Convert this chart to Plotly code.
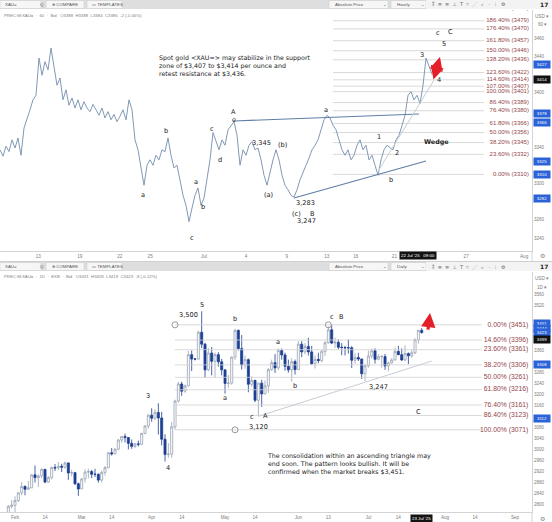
import plotly.graph_objects as go
import pandas as pd

W, H = 552, 522

# ---------------- TOP: hourly spot gold, x in trading days relative to 1 Jul 2025 ----------------
top_price = [3337, 3330, 3341, 3335, 3348, 3339, 3350, 3331, 3361, 3370,
             3381, 3392, 3397, 3438, 3419, 3434, 3425, 3449, 3430, 3408,
             3416, 3392, 3403, 3386, 3394, 3383, 3392, 3381, 3390, 3383,
             3379, 3387, 3381, 3375, 3383, 3372, 3379, 3370, 3376, 3368,
             3374, 3381, 3370, 3392, 3381, 3348, 3337, 3315, 3298, 3320,
             3326, 3320, 3331, 3326, 3337, 3335, 3350, 3331, 3317, 3320,
             3304, 3287, 3276, 3258, 3273, 3287, 3295, 3276, 3284, 3304,
             3326, 3356, 3346, 3337, 3348, 3342, 3359, 3364, 3368, 3353,
             3320, 3337, 3331, 3342, 3346, 3337, 3339, 3326, 3309, 3298,
             3313, 3326, 3337, 3326, 3309, 3298, 3293, 3287, 3285, 3293,
             3304, 3313, 3320, 3328, 3337, 3342, 3348, 3359, 3370, 3375,
             3372, 3364, 3359, 3348, 3337, 3331, 3337, 3326, 3331, 3342,
             3348, 3337, 3342, 3326, 3331, 3320, 3309, 3326, 3337, 3342,
             3339, 3337, 3348, 3353, 3364, 3375, 3397, 3401, 3392, 3397,
             3388, 3408, 3438, 3430, 3420]
top_t0 = -14.78      # first sample, trading days from 1 Jul
top_dt = 0.2174      # sampling step in trading days
top_t = [top_t0 + i * top_dt for i in range(len(top_price))]

top_fib_pct = [0, 23.6, 38.2, 50, 61.8, 76.4, 86.4, 100, 107, 114.6, 123.6, 138.2, 150, 161.8, 176.4, 186.4, 200]
top_fib_val = [3310, 3332, 3345, 3356, 3366, 3380, 3389, 3401, 3407, 3414, 3422, 3436, 3446, 3457, 3470, 3479, 3492]

top_tick_days = [-12.0, -9.0, -6.1, -3.9, 0, 3.04, 6.0, 8.9, 11.0, 13.8, 19.0, 23.2]
top_tick_text = ["13", "19", "22", "25", "Jul", "4", "9", "13", "16", "21", "27", "Aug"]
top_price_ticks = [3240, 3260, 3300, 3340, 3400, 3440, 3460]

# ---------------- BOTTOM: daily candles ----------------
dates = pd.bdate_range("2025-01-27", "2025-07-23")
o = [2770, 2740, 2763, 2760, 2794,
     2798, 2815, 2843, 2866, 2856, 2861, 2908, 2898, 2904, 2928, 2882, 2898, 2935, 2933, 2939, 2936, 2951, 2915, 2916, 2876,
     2857, 2893, 2918, 2920, 2910, 2910, 2889, 2917, 2934, 2988, 2984, 3001, 3034, 3047, 3043, 3022, 3011, 3020, 3019, 3058, 3085,
     3124, 3113, 3134, 3114, 3037, 2982, 2983, 3082, 3175, 3237, 3211, 3230, 3343, 3327, 3327, 3424, 3381, 3288, 3349, 3319, 3343, 3317,
     3288, 3239, 3240, 3334, 3431, 3365, 3306, 3325, 3236, 3250, 3178, 3240, 3201, 3230, 3289, 3314, 3295, 3358, 3342, 3301, 3288, 3318,
     3289, 3381, 3353, 3373, 3353, 3310, 3326, 3322, 3355, 3386, 3433, 3385, 3388, 3370, 3369, 3368, 3368, 3323, 3333, 3327, 3274,
     3303, 3338, 3357, 3326, 3336, 3336, 3302, 3313, 3324, 3355, 3343, 3324, 3347, 3339, 3350, 3397, 3431]
h = [2772, 2764, 2770, 2799, 2817,
     2830, 2845, 2882, 2870, 2886, 2911, 2942, 2910, 2932, 2929, 2904, 2938, 2947, 2954, 2948, 2956, 2953, 2927, 2919, 2880,
     2897, 2928, 2930, 2926, 2930, 2913, 2924, 2940, 2990, 3005, 3004, 3038, 3048, 3057, 3044, 3036, 3024, 3032, 3060, 3087, 3128,
     3149, 3145, 3167, 3136, 3055, 3023, 3100, 3180, 3245, 3245, 3235, 3357, 3358, 3331, 3430, 3500, 3386, 3367, 3371, 3351, 3352, 3328,
     3289, 3269, 3337, 3437, 3434, 3414, 3340, 3329, 3265, 3252, 3240, 3252, 3250, 3295, 3325, 3345, 3366, 3365, 3350, 3325, 3330, 3325,
     3392, 3392, 3385, 3404, 3375, 3340, 3350, 3360, 3392, 3446, 3452, 3405, 3398, 3385, 3375, 3398, 3374, 3348, 3350, 3329, 3309,
     3358, 3365, 3366, 3345, 3342, 3346, 3318, 3330, 3369, 3375, 3366, 3377, 3351, 3361, 3402, 3433, 3439]
l = [2730, 2736, 2747, 2753, 2786,
     2771, 2810, 2834, 2834, 2853, 2860, 2880, 2864, 2897, 2878, 2879, 2892, 2922, 2925, 2918, 2930, 2890, 2903, 2871, 2832,
     2857, 2880, 2895, 2896, 2900, 2880, 2880, 2905, 2932, 2978, 2982, 2998, 3024, 3025, 3000, 3002, 3005, 3011, 3015, 3055, 3075,
     3100, 3106, 3054, 3015, 2956, 2970, 2970, 3072, 3170, 3194, 3205, 3228, 3284, 3322, 3325, 3367, 3260, 3283, 3268, 3261, 3300, 3268,
     3202, 3223, 3234, 3324, 3358, 3289, 3292, 3207, 3227, 3171, 3120, 3154, 3200, 3205, 3284, 3277, 3287, 3325, 3285, 3278, 3245, 3271,
     3289, 3334, 3344, 3340, 3306, 3293, 3312, 3315, 3339, 3383, 3381, 3367, 3362, 3341, 3340, 3347, 3295, 3310, 3320, 3255, 3247,
     3296, 3329, 3311, 3323, 3296, 3288, 3283, 3310, 3322, 3341, 3320, 3319, 3309, 3332, 3345, 3383, 3419]
c = [2740, 2763, 2760, 2794, 2798,
     2815, 2843, 2866, 2856, 2861, 2908, 2898, 2904, 2928, 2882, 2898, 2935, 2933, 2939, 2936, 2951, 2915, 2916, 2876, 2857,
     2893, 2918, 2920, 2910, 2910, 2889, 2917, 2934, 2988, 2984, 3001, 3034, 3047, 3043, 3022, 3011, 3020, 3019, 3058, 3085, 3124,
     3113, 3134, 3114, 3037, 2982, 2983, 3082, 3175, 3237, 3211, 3230, 3343, 3327, 3327, 3424, 3381, 3288, 3349, 3319, 3343, 3317, 3288,
     3239, 3240, 3334, 3431, 3365, 3306, 3325, 3236, 3250, 3178, 3240, 3201, 3230, 3289, 3314, 3295, 3358, 3342, 3301, 3288, 3318, 3289,
     3381, 3353, 3373, 3353, 3310, 3326, 3322, 3355, 3386, 3433, 3385, 3388, 3370, 3369, 3368, 3368, 3323, 3333, 3327, 3274, 3303,
     3338, 3357, 3326, 3336, 3336, 3302, 3313, 3324, 3355, 3343, 3324, 3347, 3339, 3350, 3397, 3431, 3423]

bot_fib_pct = [0, 14.6, 23.6, 38.2, 50, 61.8, 76.4, 86.4, 100]
bot_fib_val = [3451, 3396, 3361, 3306, 3261, 3216, 3161, 3123, 3071]

bot_tick_dates = ["2025-02-03", "2025-02-14", "2025-03-03", "2025-03-14", "2025-04-01", "2025-04-14",
                  "2025-05-01", "2025-05-14", "2025-06-02", "2025-06-13", "2025-07-01", "2025-07-14",
                  "2025-08-01", "2025-08-14", "2025-09-01"]
bot_tick_text = ["Feb", "14", "Mar", "14", "Apr", "14", "May", "14", "Jun", "13", "Jul", "14", "Aug", "14", "Sep"]
bot_price_ticks = [2800, 2840, 2880, 2920, 2960, 3000, 3040, 3080, 3160, 3200, 3240, 3280, 3360, 3520, 3560]


def PX(x):
    return x / W


def PY(y):
    return 1 - y / H


LBL = dict(family="DejaVu Sans", size=6.6, color="#1b1b1b")
AX_FONT = dict(family="Liberation Sans", size=4.6, color="#7d7d7d")
FIB_COLOR = "#94464c"
FIB_LINE = "#cfcfcf"

fig = go.Figure()

# ---------- top traces ----------
fl_x, fl_y = [], []
for v in top_fib_val:
    fl_x += [9.35, 20.3, None]
    fl_y += [v, v, None]
fig.add_trace(go.Scatter(x=fl_x, y=fl_y, mode="lines", line=dict(color=FIB_LINE, width=0.8),
                         xaxis="x", yaxis="y", hoverinfo="skip"))
fig.add_trace(go.Scatter(x=top_t, y=top_price, mode="lines", line=dict(color="#8299b5", width=1),
                         xaxis="x", yaxis="y"))
# trend lines
fig.add_trace(go.Scatter(x=[2.17, 15.58], y=[3368.7, 3376.4], mode="lines",
                         line=dict(color="#5f7fa6", width=1.2), xaxis="x", yaxis="y"))
fig.add_trace(go.Scatter(x=[6.52, 16.09], y=[3284, 3324.7], mode="lines",
                         line=dict(color="#5f7fa6", width=1.2), xaxis="x", yaxis="y"))
fig.add_trace(go.Scatter(x=[12.54, 16.67], y=[3311.5, 3413.8], mode="lines",
                         line=dict(color="#c3cedb", width=1), xaxis="x", yaxis="y"))
fig.add_trace(go.Scatter(x=[23.55] * len(top_fib_val), y=top_fib_val, mode="text",
                         text=[f"{p:.2f}% ({v})" for p, v in zip(top_fib_pct, top_fib_val)],
                         textposition="middle left",
                         textfont=dict(family="Liberation Sans", size=6, color=FIB_COLOR),
                         xaxis="x", yaxis="y", cliponaxis=True))

# ---------- bottom traces ----------
bf_x, bf_y = [], []
for v in bot_fib_val:
    bf_x += ["2025-04-10", "2025-08-18", None]
    bf_y += [v, v, None]
fig.add_trace(go.Scatter(x=bf_x, y=bf_y, mode="lines", line=dict(color=FIB_LINE, width=0.8),
                         xaxis="x2", yaxis="y2", hoverinfo="skip"))
fig.add_trace(go.Scatter(x=["2025-05-15", "2025-07-28"], y=[3120, 3320], mode="lines",
                         line=dict(color="#c8ccd4", width=1), xaxis="x2", yaxis="y2"))
fig.add_trace(go.Candlestick(x=dates, open=o, high=h, low=l, close=c, xaxis="x2", yaxis="y2",
                             increasing=dict(line=dict(color="#98a2b3", width=0.8), fillcolor="#ffffff"),
                             decreasing=dict(line=dict(color="#1d3f93", width=0.8), fillcolor="#1d3f93"),
                             whiskerwidth=0))
fig.add_trace(go.Scatter(x=["2025-04-10", "2025-05-06", "2025-06-13"], y=[3451, 3071, 3451], mode="markers",
                         marker=dict(symbol="circle-open", size=6, color="#9a9a9a", line=dict(width=1)),
                         xaxis="x2", yaxis="y2"))
fig.add_trace(go.Scatter(x=["2025-09-05"] * len(bot_fib_val), y=bot_fib_val, mode="text",
                         text=[f"{p:.2f}% ({v})" for p, v in zip(bot_fib_pct, bot_fib_val)],
                         textposition="middle left",
                         textfont=dict(family="Liberation Sans", size=6.8, color=FIB_COLOR),
                         xaxis="x2", yaxis="y2", cliponaxis=True))

ann = []


def lab(x, y, t, xr="x", yr="y", font=LBL, **kw):
    d = dict(x=x, y=y, text=t, xref=xr, yref=yr, showarrow=False, font=font, xanchor="center", yanchor="middle")
    d.update(kw)
    ann.append(d)


# top labels
for x, y, t in [(2.17, 3378.6, "A"), (2.17, 3369.8, "e"), (-4.42, 3287.3, "a"), (-2.75, 3357.7, "b"),
                (-0.87, 3240, "c"), (-0.58, 3301.6, "a"), (-0.07, 3274, "b"), (0.58, 3359.9, "c"),
                (1.16, 3325.8, "d"), (4.2, 3344.5, "3,345"), (5.72, 3342.3, "(b)"), (4.64, 3287.3, "(a)"),
                (7.39, 3278.5, "3,283"), (6.74, 3266.4, "(c)"), (7.9, 3266.4, "B"), (7.46, 3258.7, "3,247"),
                (8.84, 3380.8, "a"), (12.68, 3351, "1"), (13.99, 3333.5, "2"), (13.55, 3303.8, "b"),
                (15.8, 3441.3, "3"), (17.03, 3413.8, "4"), (17.39, 3453.4, "5"), (16.96, 3465.5, "c"),
                (17.9, 3466.6, "C")]:
    lab(x, y, t)
lab(16.88, 3345.6, "<b>Wedge</b>", font=dict(family="DejaVu Sans", size=6.4, color="#1b1b1b"))
lab(-3.41, 3430.3, "Spot gold &lt;XAU=&gt; may stabilize in the support<br>zone of $3,407 to $3,414 per ounce and<br>retest resistance at $3,436.",
    xanchor="left", align="left", font=dict(family="DejaVu Sans", size=6.3, color="#1b1b1b"))
ann.append(dict(x=17.1, y=3439, ax=16.6, ay=3412.7, xref="x", yref="y", axref="x", ayref="y",
                showarrow=True, arrowhead=2, arrowside="end+start", arrowsize=0.9, arrowwidth=3,
                arrowcolor="#e3202a", text=""))

# bottom labels
for x, y, t in [("2025-04-22", 3522.7, "5"), ("2025-04-16", 3486.5, "3,500"), ("2025-05-06", 3472, "b"),
                ("2025-06-16", 3479, "c"), ("2025-06-19", 3479, "B"), ("2025-05-23", 3389, "a"),
                ("2025-05-01", 3186, "a"), ("2025-05-13", 3117, "c"), ("2025-05-19", 3120, "A"),
                ("2025-05-15", 3081, "3,120"), ("2025-05-30", 3230, "b"), ("2025-07-04", 3226, "3,247"),
                ("2025-07-22", 3135, "C"), ("2025-03-31", 3193, "3"), ("2025-04-08", 2933, "4")]:
    lab(x, y, t, xr="x2", yr="y2")
lab("2025-05-19", 2950, "The consolidation within an ascending triangle may<br>end soon. The pattern looks bullish. It will be<br>confirmed when the market breaks $3,451.",
    xr="x2", yr="y2", xanchor="left", align="left", font=dict(family="DejaVu Sans", size=6.3, color="#1b1b1b"))
ann.append(dict(x="2025-07-25 12:00", y=3494, ax="2025-07-24 20:00", ay=3428, xref="x2", yref="y2",
                axref="x2", ayref="y2", showarrow=True, arrowhead=2, arrowsize=0.9, arrowwidth=3.2,
                arrowcolor="#e3202a", text=""))

# price-axis badges
SMALL = dict(family="Liberation Sans", size=4.4, color="#ffffff")
for yv, t, col in [(3431.4, "3427", "#2a62d8"), (3414, "3414", "#111111"), (3377.5, "3378", "#2a62d8"),
                   (3366.6, "3366", "#2a62d8"), (3324.7, "3325", "#2a62d8"), (3310, "3310", "#2a62d8"),
                   (3283, "3282", "#2a62d8")]:
    lab(PX(541.5), yv, t, xr="paper", yr="y", font=SMALL, bgcolor=col, borderpad=1, width=14)
for yv, t, col in [(3455, "3451", "#2a62d8"), (3439, "3444", "#2a62d8"), (3424, "3423", "#2a62d8"),
                   (3399, "3399", "#111111"), (3306, "3308", "#2a62d8"), (3112, "3112", "#2a62d8")]:
    lab(PX(541.5), yv, t, xr="paper", yr="y2", font=SMALL, bgcolor=col, borderpad=1, width=14)

# ---------- chrome (toolbars, headers) ----------
shapes = []


def rect(x0, y0, x1, y1, fill, line=None, lw=0):
    shapes.append(dict(type="rect", xref="paper", yref="paper", x0=PX(x0), x1=PX(x1), y0=PY(y1), y1=PY(y0),
                       fillcolor=fill, line=dict(color=line or fill, width=lw), layer="above"))


def hline(x0, x1, y, col="#d4d4d4", w=1):
    shapes.append(dict(type="line", xref="paper", yref="paper", x0=PX(x0), x1=PX(x1), y0=PY(y), y1=PY(y),
                       line=dict(color=col, width=w), layer="above"))


def vline(x, y0, y1, col="#d4d4d4", w=1):
    shapes.append(dict(type="line", xref="paper", yref="paper", x0=PX(x), x1=PX(x), y0=PY(y0), y1=PY(y1),
                       line=dict(color=col, width=w), layer="above"))


TB = dict(family="Liberation Sans", size=4.4, color="#555555")
for ty, interval in [(0, "Hourly"), (262, "Daily")]:
    rect(0, ty, 552, ty + 9, "#dedede")
    rect(0, ty + 0.5, 41, ty + 8.5, "#f6f6f6", "#c8c8c8", 0.5)
    rect(46, ty + 0.5, 84, ty + 8.5, "#f6f6f6", "#c8c8c8", 0.5)
    rect(87, ty + 0.5, 122, ty + 8.5, "#f6f6f6", "#c8c8c8", 0.5)
    rect(329, ty + 0.5, 388, ty + 8.5, "#f6f6f6", "#c8c8c8", 0.5)
    rect(391, ty + 0.5, 426, ty + 8.5, "#f6f6f6", "#c8c8c8", 0.5)
    rect(426, ty, 552, ty + 9, "#f3f3f3")
    for x, t in [(3, "XAU="), (38, "Q"), (50, "⊕ COMPARE"), (90, "▭ TEMPLATES"), (333, "Absolute Price"),
                 (381, "⌄"), (395, interval), (419, "⌄")]:
        lab(PX(x), PY(ty + 4.5), t, xr="paper", yr="paper", font=TB, xanchor="left")
    lab(PX(430), PY(ty + 4.5), "⁑  ≡  ≡  ⊥  T  ⌗  ⋰  ⌕   ·   ⁝   ⚙", xr="paper", yr="paper",
        font=dict(family="DejaVu Sans", size=5, color="#666666"), xanchor="left")
    lab(PX(550), PY(ty + 4.5), "<b>17</b>", xr="paper", yr="paper",
        font=dict(family="DejaVu Sans", size=6, color="#222222"), xanchor="right")

HDR = dict(family="Liberation Sans", size=4.3, color="#808080")
lab(PX(2), PY(15), "PREC:M:XAU=  ·  60  ·  Bid   O3388  H3388  L3384  C3386  -2 (-0.06%)", xr="paper", yr="paper",
    font=HDR, xanchor="left")
lab(PX(2), PY(276), "PREC:M:XAU=  ·  1D  ·  EXB  ·  Bid   O3431  H3459  L3419  C3423  -8 (-0.22%)", xr="paper",
    yr="paper", font=HDR, xanchor="left")
for yy in (16, 278):
    lab(PX(542), PY(yy), "USD ▾", xr="paper", yr="paper", font=AX_FONT)
lab(PX(542), PY(25), "60 ▾", xr="paper", yr="paper", font=AX_FONT)
lab(PX(542), PY(287), "1D ▾", xr="paper", yr="paper", font=AX_FONT)

# time-axis badges and gears
lab(PX(418), PY(256), "22 Jul '25   09:00", xr="paper", yr="paper",
    font=dict(family="Liberation Sans", size=4.4, color="#ffffff"), bgcolor="#131313", borderpad=1)
lab(PX(421.5), PY(518.5), "23 Jul '25", xr="paper", yr="paper",
    font=dict(family="Liberation Sans", size=4.4, color="#ffffff"), bgcolor="#131313", borderpad=1)
for yy in (256, 518):
    lab(PX(542), PY(yy), "⚙", xr="paper", yr="paper", font=dict(family="DejaVu Sans", size=6, color="#888888"))

vline(532, 251, 261)
vline(532, 512, 522)
hline(0, 552, 261.5, "#cfcfcf", 1)

fig.update_layout(
    width=W, height=H, margin=dict(l=0, r=0, t=0, b=0),
    paper_bgcolor="white", plot_bgcolor="white", showlegend=False,
    annotations=ann, shapes=shapes, boxgap=0.12,
    xaxis=dict(domain=[0, PX(532)], range=[-14.78, 23.77], anchor="y", showgrid=False, zeroline=False,
               showline=True, linecolor="#d4d4d4", linewidth=1, tickvals=top_tick_days, ticktext=top_tick_text,
               tickfont=AX_FONT, ticks="", fixedrange=True),
    yaxis=dict(domain=[PY(251), PY(10)], range=[3225.7, 3490.8], anchor="x", side="right", showgrid=False,
               zeroline=False, showline=True, linecolor="#d4d4d4", linewidth=1,
               tickvals=top_price_ticks, tickfont=AX_FONT, ticks=""),
    xaxis2=dict(domain=[0, PX(532)], type="date", range=["2025-01-27 12:00", "2025-09-08 02:00"], anchor="y2",
                rangebreaks=[dict(bounds=["sat", "mon"])], rangeslider=dict(visible=False), showgrid=False,
                zeroline=False, showline=True, linecolor="#d4d4d4", linewidth=1, tickvals=bot_tick_dates,
                ticktext=bot_tick_text, tickfont=AX_FONT, ticks=""),
    yaxis2=dict(domain=[PY(512), PY(272)], range=[2773.6, 3642.2], anchor="x2", side="right", showgrid=False,
                zeroline=False, showline=True, linecolor="#d4d4d4", linewidth=1,
                tickvals=bot_price_ticks, tickfont=AX_FONT, ticks=""),
)

fig.write_html("out.html")
